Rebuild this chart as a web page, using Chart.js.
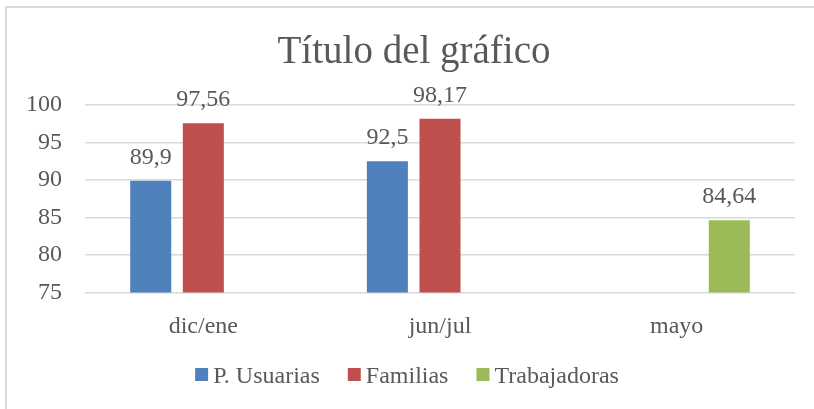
<!DOCTYPE html>
<html><head><meta charset="utf-8">
<script src="https://cdn.jsdelivr.net/npm/chart.js@4/dist/chart.umd.min.js"></script>
<style>html,body{margin:0;padding:0;background:#fff;overflow:hidden}#wrap{width:814px;height:409px;position:relative}</style>
</head><body><div id="wrap"><canvas id="c" width="814" height="409"></canvas></div>
<script>
const categories = ['dic/ene', 'jun/jul', 'mayo'];
const seriesNames = ['P. Usuarias', 'Familias', 'Trabajadoras'];
const usuarias = [89.9, 92.5, null];
const familias = [97.56, 98.17, null];
const trabajadoras = [null, null, 84.64];
const yTicks = [75, 80, 85, 90, 95, 100];
const titleText = 'Título del gráfico';

const colors = ['#4F81BD', '#C0504D', '#9BBB59'];
const FONT = '"Liberation Serif", serif';
const TXT = '#595959';
const SMALL = 24;

const borderPlugin = {
  id: 'outerBorder',
  beforeDraw(chart) {
    const ctx = chart.ctx;
    ctx.save();
    ctx.fillStyle = '#fff';
    ctx.fillRect(0, 0, chart.width, chart.height);
    ctx.strokeStyle = '#d9d9d9';
    ctx.lineWidth = 2;
    ctx.beginPath();
    ctx.moveTo(6, chart.height + 5);
    ctx.lineTo(6, 7);
    ctx.lineTo(chart.width + 5, 7);
    ctx.stroke();
    ctx.restore();
  }
};

const titlePlugin = {
  id: 'titleText',
  afterDraw(chart) {
    const ctx = chart.ctx;
    ctx.save();
    ctx.font = '39px ' + FONT;
    ctx.fillStyle = TXT;
    ctx.textAlign = 'center';
    ctx.textBaseline = 'alphabetic';
    ctx.fillText(titleText, 414, 63);
    ctx.restore();
  }
};

const valueLabels = {
  id: 'valueLabels',
  afterDatasetsDraw(chart) {
    const ctx = chart.ctx;
    ctx.save();
    ctx.font = SMALL + 'px ' + FONT;
    ctx.fillStyle = TXT;
    ctx.textAlign = 'center';
    ctx.textBaseline = 'alphabetic';
    chart.data.datasets.forEach((ds, i) => {
      const meta = chart.getDatasetMeta(i);
      meta.data.forEach((el, j) => {
        const v = ds.data[j];
        if (v === null || v === undefined) return;
        ctx.fillText(String(v).replace('.', ','), el.x, el.y - 17);
      });
    });
    ctx.restore();
  }
};

const customLegend = {
  id: 'customLegend',
  afterDraw(chart) {
    const ctx = chart.ctx;
    ctx.save();
    ctx.font = SMALL + 'px ' + FONT;
    const box = 13, gapText = 5, gapItem = 28;
    const items = chart.data.datasets.map(ds => ({ label: ds.label, color: ds.backgroundColor, w: ctx.measureText(ds.label).width }));
    let total = 0;
    items.forEach((it, i) => { total += box + gapText + it.w + (i < items.length - 1 ? gapItem : 0); });
    let x = 407 - total / 2;
    items.forEach(it => {
      ctx.fillStyle = it.color;
      ctx.fillRect(x, 368, box, box);
      x += box + gapText;
      ctx.fillStyle = TXT;
      ctx.textAlign = 'left';
      ctx.textBaseline = 'alphabetic';
      ctx.fillText(it.label, x, 383);
      x += it.w + gapItem;
    });
    ctx.restore();
  }
};

new Chart(document.getElementById('c'), {
  type: 'bar',
  data: {
    labels: categories,
    datasets: [
      { label: seriesNames[0], data: usuarias, backgroundColor: colors[0] },
      { label: seriesNames[1], data: familias, backgroundColor: colors[1] },
      { label: seriesNames[2], data: trabajadoras, backgroundColor: colors[2] }
    ]
  },
  options: {
    responsive: false,
    animation: false,
    devicePixelRatio: 1,
    categoryPercentage: 0.667,
    barPercentage: 0.78,
    layout: { padding: { left: 0, right: 19, top: 105, bottom: 56.5 } },
    plugins: {
      legend: { display: false },
      tooltip: { enabled: false },
      title: { display: false }
    },
    scales: {
      x: {
        grid: { display: false },
        border: { display: false },
        ticks: { color: TXT, font: { family: FONT, size: SMALL }, padding: 12, maxRotation: 0 },
        afterFit(s) { s.height = 60; }
      },
      y: {
        min: 75, max: 100,
        afterBuildTicks(s) { s.ticks = yTicks.map(v => ({ value: v })); },
        grid: { color: '#d9d9d9', lineWidth: 1.5, drawTicks: false },
        border: { display: false },
        ticks: { color: TXT, font: { family: FONT, size: SMALL }, padding: 23 },
        afterFit(s) { s.width = 85; }
      }
    }
  },
  plugins: [borderPlugin, valueLabels, customLegend, titlePlugin]
});
</script></body></html>
